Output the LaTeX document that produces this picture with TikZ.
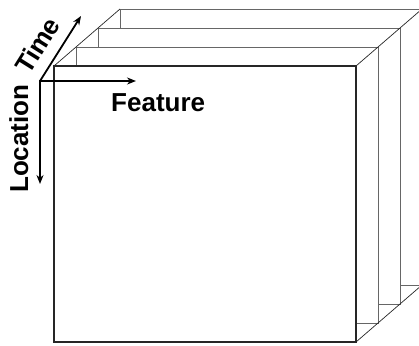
\documentclass[tikz,border=0pt]{standalone}
\usepackage{fontspec}
\setmainfont{Liberation Sans}
\usetikzlibrary{arrows.meta}
\tikzset{
  sheet/.style={draw=black!60, line width=0.9pt, fill=white},
  frontsheet/.style={draw=black!85, line width=1.1pt, fill=white},
  edge/.style={draw=black!85, line width=0.7pt},
  axis/.style={draw=black, line width=1.8pt, -{Stealth[length=9pt,width=7pt]}},
  axlabel/.style={font=\fontsize{26}{30}\selectfont\bfseries, inner sep=0pt}
}
\begin{document}
\begin{tikzpicture}[x=1pt,y=-1pt]
\useasboundingbox (0,0) rectangle (419,345);
\begin{scope}
\clip (0,0) rectangle (419,345);
% stacked sheets, back to front
\foreach \k in {3,2,1}{
  \path[sheet] ({54+22*\k},{66-19*\k}) rectangle ({356+22*\k},{342-19*\k});
}
\path[frontsheet] (54,66) rectangle (356,342);
% depth edges through the sheet corners
\coordinate (tl0) at (54,66);   \coordinate (tl3) at (120,9);
\coordinate (tr0) at (356,66);  \coordinate (tr3) at (422,9);
\coordinate (br0) at (356,342); \coordinate (br3) at (422,285);
\draw[edge] (tl0) -- (tl3);
\draw[edge] (tr0) -- (tr3);
\draw[edge] (br0) -- (br3);
\end{scope}
% axes
\coordinate (o) at (40,81);
\coordinate (fe) at (136,81);
\coordinate (ti) at (81,16);
\coordinate (lo) at (40,184);
\draw[axis] (o) -- (fe);
\draw[axis] (o) -- (ti);
\draw[axis] (40,80) -- (lo);
\node[axlabel, anchor=base west] (feature) at (111,111) {Feature};
\node[axlabel, anchor=base west, rotate=90] (location) at (28,193) {Location};
\node[axlabel, anchor=base west, rotate=58] (time) at (29,76) {Time};
\end{tikzpicture}
\end{document}
